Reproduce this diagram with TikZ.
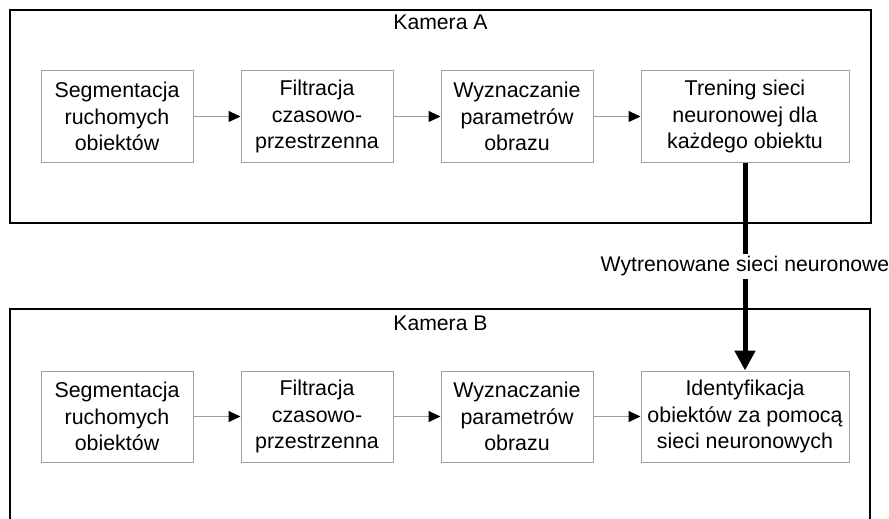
\documentclass[tikz,border=0pt]{standalone}
\usepackage{fontspec}
\setmainfont{Liberation Sans}
\usepackage{tikz}
\usetikzlibrary{positioning,arrows.meta}

\begin{document}
\begin{tikzpicture}[
    x=1pt, y=-1pt,
    node distance=47pt,
    box/.style={draw=gray!75, line width=1pt, fill=white, minimum width=152pt, minimum height=91pt, inner sep=0pt, align=center, font=\fontsize{21.4}{26.7}\selectfont},
    wide/.style={box, minimum width=208pt},
    arr/.style={-{Triangle[length=12pt, width=11pt, color=black]}, gray!75, line width=1pt},
    bigarr/.style={-{Triangle[length=20pt, width=20pt]}, black, line width=5pt},
    frame/.style={draw=black, line width=2pt},
    label/.style={font=\fontsize{21.2}{26.7}\selectfont}
  ]
    \clip (0,0) rectangle (889,519);
    \fill[white] (0,0) rectangle (889,519);

    % camera frames (the lower one runs off the page)
    \draw[frame] (10,10) rectangle (871,223);
    \draw[frame] (10,530) -- (10,309) -- (870,309) -- (870,530);
    \node[label] (kamA) at (440.5,22) {Kamera A};
    \node[label] (kamB) at (440.5,323) {Kamera B};

    % camera A: training
    \node[box] (segA) at (117,116.5) {Segmentacja\\ruchomych\\obiektów};
    \node[box, right=of segA] (filA) {Filtracja\\czasowo-\\przestrzenna};
    \node[box, right=of filA] (parA) {Wyznaczanie\\parametrów\\obrazu};
    \node[wide, right=of parA] (trA) {Trening sieci\\neuronowej dla\\każdego obiektu};

    % camera B: identification
    \node[box, below=208pt of segA] (segB) {Segmentacja\\ruchomych\\obiektów};
    \node[box, right=of segB] (filB) {Filtracja\\czasowo-\\przestrzenna};
    \node[box, right=of filB] (parB) {Wyznaczanie\\parametrów\\obrazu};
    \node[wide, right=of parB] (idB) {Identyfikacja\\obiektów za pomocą\\sieci neuronowych};

    \draw[arr] (segA) -- (filA);
    \draw[arr] (filA) -- (parA);
    \draw[arr] (parA) -- (trA);
    \draw[arr] (segB) -- (filB);
    \draw[arr] (filB) -- (parB);
    \draw[arr] (parB) -- (idB);

    \draw[bigarr] (trA.south) -- node[label, fill=white, inner sep=3pt] (nets) {Wytrenowane sieci neuronowe} (idB.north);
  \end{tikzpicture}
\end{document}
